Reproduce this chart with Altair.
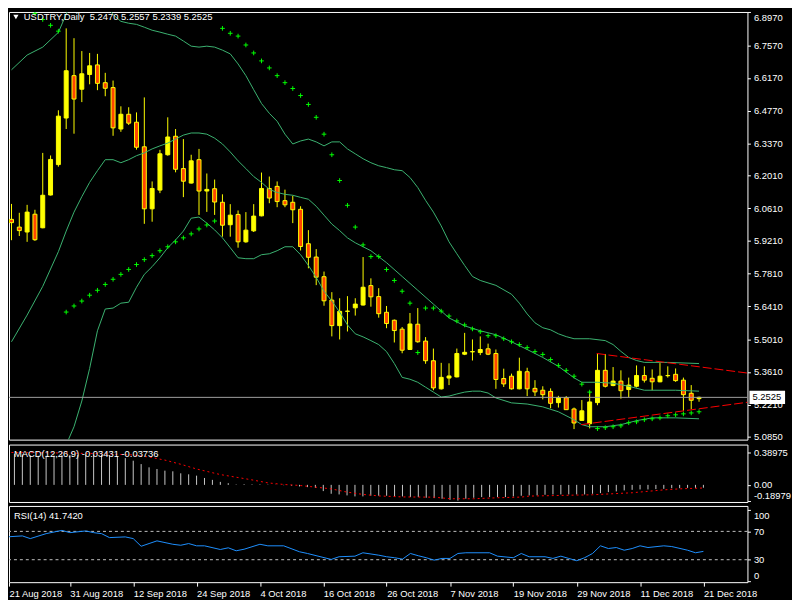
import altair as alt
import pandas as pd

# ---------------- data ----------------
opens = [6.013, 5.980, 5.959, 6.035, 5.977, 6.117, 6.247, 6.446, 6.627, 6.569,
         6.632, 6.673, 6.597, 6.576, 6.399, 6.462, 6.428, 6.323, 6.058, 6.138,
         6.289, 6.368, 6.230, 6.168, 6.268, 6.134, 6.144, 6.086, 5.990, 6.034,
         5.917, 5.964, 6.028, 6.145, 6.154, 6.093, 6.086, 6.056, 5.909, 5.852,
         5.768, 5.668, 5.559, 5.620, 5.635, 5.647, 5.730, 5.683, 5.616, 5.582,
         5.544, 5.457, 5.565, 5.493, 5.409, 5.289, 5.335, 5.340, 5.437, 5.447,
         5.444, 5.460, 5.440, 5.333, 5.343, 5.289, 5.362, 5.291, 5.283, 5.278,
         5.230, 5.251, 5.203, 5.154, 5.140, 5.230, 5.368, 5.303, 5.322, 5.286,
         5.300, 5.346, 5.334, 5.319, 5.345, 5.351, 5.326, 5.270, 5.2470]
highs = [6.079, 6.041, 6.075, 6.054, 6.297, 6.286, 6.479, 6.829, 6.787, 6.732,
         6.724, 6.720, 6.639, 6.606, 6.496, 6.492, 6.470, 6.534, 6.175, 6.310,
         6.449, 6.399, 6.356, 6.289, 6.314, 6.209, 6.183, 6.120, 6.078, 6.051,
         6.044, 6.078, 6.213, 6.196, 6.175, 6.140, 6.114, 6.069, 5.967, 5.886,
         5.790, 5.702, 5.676, 5.685, 5.676, 5.852, 5.761, 5.719, 5.643, 5.585,
         5.553, 5.613, 5.634, 5.510, 5.461, 5.400, 5.398, 5.461, 5.528, 5.500,
         5.513, 5.482, 5.457, 5.375, 5.354, 5.422, 5.379, 5.326, 5.300, 5.291,
         5.259, 5.258, 5.209, 5.241, 5.278, 5.438, 5.438, 5.382, 5.368, 5.337,
         5.389, 5.385, 5.372, 5.399, 5.385, 5.376, 5.337, 5.305, 5.2557]
lows = [5.924, 5.942, 5.917, 5.921, 5.975, 6.115, 6.238, 6.399, 6.379, 6.514,
        6.590, 6.565, 6.539, 6.370, 6.387, 6.416, 6.311, 5.994, 6.003, 6.125,
        6.285, 6.214, 6.108, 6.166, 6.032, 6.045, 6.032, 5.939, 5.939, 5.892,
        5.913, 5.959, 6.026, 6.082, 6.065, 6.065, 5.997, 5.880, 5.804, 5.732,
        5.644, 5.513, 5.500, 5.534, 5.602, 5.645, 5.640, 5.593, 5.548, 5.487,
        5.441, 5.455, 5.486, 5.396, 5.283, 5.286, 5.305, 5.338, 5.433, 5.410,
        5.433, 5.433, 5.289, 5.297, 5.286, 5.287, 5.258, 5.258, 5.244, 5.206,
        5.209, 5.199, 5.117, 5.152, 5.120, 5.219, 5.295, 5.300, 5.247, 5.253,
        5.295, 5.316, 5.283, 5.317, 5.337, 5.319, 5.195, 5.202, 5.2339]
closes = [5.999, 5.965, 6.044, 5.926, 6.116, 6.269, 6.454, 6.648, 6.527, 6.635,
          6.669, 6.594, 6.573, 6.404, 6.462, 6.424, 6.321, 6.058, 6.145, 6.293,
          6.365, 6.227, 6.176, 6.263, 6.134, 6.141, 6.087, 5.988, 6.031, 5.917,
          5.967, 6.027, 6.145, 6.104, 6.089, 6.075, 6.054, 5.897, 5.851, 5.766,
          5.665, 5.559, 5.620, 5.621, 5.651, 5.723, 5.682, 5.610, 5.568, 5.538,
          5.454, 5.566, 5.490, 5.409, 5.293, 5.338, 5.344, 5.440, 5.445, 5.448,
          5.457, 5.437, 5.329, 5.310, 5.289, 5.364, 5.289, 5.276, 5.264, 5.227,
          5.251, 5.200, 5.143, 5.195, 5.233, 5.368, 5.300, 5.322, 5.281, 5.305,
          5.346, 5.326, 5.319, 5.343, 5.346, 5.324, 5.264, 5.240, 5.2525]

date_ticks = [0, 8, 16, 24, 32, 40, 48, 56, 64, 72, 80, 88]
date_labels = ["21 Aug 2018", "31 Aug 2018", "12 Sep 2018", "24 Sep 2018",
               "4 Oct 2018", "16 Oct 2018", "26 Oct 2018", "7 Nov 2018",
               "19 Nov 2018", "29 Nov 2018", "11 Dec 2018", "21 Dec 2018"]
price_ticks = [6.8970, 6.7570, 6.6170, 6.4770, 6.3370, 6.2010, 6.0610,
               5.9210, 5.7810, 5.6410, 5.5010, 5.3610, 5.2210, 5.0850]

bb_up_i = [0, 2, 4, 6, 7, 8, 9, 10, 11, 12, 13, 14, 15, 16, 17, 18, 19, 20, 21, 22,
           23, 24, 25, 26, 27, 28, 29, 30, 31, 32, 33, 34, 35, 36, 37, 38, 39, 40,
           41, 42, 43, 44, 45, 46, 47, 48, 49, 50, 51, 52, 53, 54, 55, 56, 57, 58,
           59, 60, 62, 64, 65, 66, 67, 68, 69, 70, 71, 72, 74, 76, 77, 78, 79, 80,
           81, 84, 88]
bb_up_v = [6.652, 6.715, 6.749, 6.812, 6.889, 6.965, 6.998, 7.007, 6.990, 6.935,
           6.888, 6.859, 6.851, 6.846, 6.834, 6.821, 6.813, 6.804, 6.796, 6.775,
           6.753, 6.749, 6.753, 6.749, 6.736, 6.720, 6.677, 6.627, 6.567, 6.508,
           6.466, 6.432, 6.377, 6.335, 6.348, 6.356, 6.344, 6.327, 6.344, 6.344,
           6.314, 6.293, 6.272, 6.255, 6.242, 6.234, 6.225, 6.221, 6.192, 6.149,
           6.094, 6.044, 5.985, 5.917, 5.866, 5.816, 5.769, 5.752, 5.731, 5.693,
           5.655, 5.609, 5.571, 5.550, 5.541, 5.524, 5.512, 5.503, 5.503, 5.495,
           5.478, 5.449, 5.423, 5.410, 5.402, 5.402, 5.397]
bb_mid_i = [0, 2, 4, 6, 7, 8, 9, 10, 11, 12, 13, 14, 15, 16, 17, 18, 19, 20, 21, 22,
            23, 24, 25, 26, 27, 28, 29, 30, 31, 32, 33, 34, 35, 36, 37, 38, 39, 40,
            41, 42, 43, 44, 46, 48, 50, 52, 54, 56, 58, 60, 62, 64, 66, 68, 70, 72,
            73, 75, 77, 79, 81, 85, 88]
bb_mid_v = [5.490, 5.604, 5.727, 5.875, 5.963, 6.044, 6.110, 6.171, 6.221, 6.268,
            6.268, 6.255, 6.268, 6.285, 6.297, 6.314, 6.327, 6.339, 6.356, 6.373,
            6.382, 6.382, 6.377, 6.360, 6.335, 6.301, 6.263, 6.230, 6.196, 6.171,
            6.141, 6.128, 6.120, 6.116, 6.107, 6.099, 6.069, 6.031, 5.993, 5.965,
            5.934, 5.913, 5.879, 5.828, 5.769, 5.710, 5.651, 5.592, 5.558, 5.537,
            5.520, 5.490, 5.457, 5.423, 5.385, 5.336, 5.317, 5.317, 5.313, 5.300,
            5.283, 5.283, 5.279]
bb_low_i = [7, 8, 9, 10, 11, 12, 13, 14, 15, 16, 17, 18, 19, 20, 21, 22, 23, 24, 25,
            26, 27, 28, 29, 30, 31, 32, 33, 34, 35, 36, 37, 38, 39, 40, 41, 42, 43,
            44, 45, 46, 47, 48, 49, 50, 51, 52, 53, 54, 55, 56, 57, 58, 59, 60, 61,
            62, 64, 66, 68, 70, 72, 73, 74, 76, 78, 80, 82, 85, 88]
bb_low_v = [5.050, 5.127, 5.237, 5.376, 5.537, 5.630, 5.634, 5.655, 5.659, 5.723,
            5.778, 5.811, 5.849, 5.892, 5.925, 5.963, 6.018, 6.023, 5.997, 5.968,
            5.934, 5.892, 5.849, 5.845, 5.845, 5.862, 5.866, 5.879, 5.896, 5.896,
            5.862, 5.816, 5.765, 5.706, 5.664, 5.617, 5.562, 5.524, 5.511, 5.495,
            5.478, 5.448, 5.397, 5.338, 5.330, 5.317, 5.296, 5.275, 5.254, 5.258,
            5.267, 5.275, 5.279, 5.279, 5.271, 5.250, 5.229, 5.224, 5.212, 5.191,
            5.157, 5.136, 5.127, 5.127, 5.136, 5.153, 5.165, 5.165, 5.161]
sar_i = [2, 3, 4, 5, 6,
         7, 8, 9, 10, 11, 12, 13, 14, 15, 16, 17, 18, 19, 20, 21, 22, 23, 24, 25, 26,
         27, 28, 29, 30, 31, 32, 33, 34, 35, 36, 37, 38, 39, 40, 41, 42, 43, 44, 45,
         46, 47, 48, 49, 50, 51, 52,
         53, 54, 55, 56, 57, 58, 59, 60, 61, 62, 63, 64, 65, 66, 67, 68, 69, 70, 71,
         72, 73, 74,
         75, 76, 77, 78, 79, 80, 81, 82, 83, 84, 85, 86, 87, 88]
sar_v = [6.918, 6.893, 6.867, 6.842, 6.817,
         5.617, 5.643, 5.664, 5.689, 5.710, 5.735, 5.757, 5.778, 5.799, 5.820, 5.841,
         5.858, 5.879, 5.896, 5.917, 5.934, 5.951, 5.972, 5.989, 6.006,
         6.829, 6.808, 6.796, 6.758, 6.724, 6.690, 6.660, 6.627, 6.597, 6.572, 6.542,
         6.504, 6.449, 6.377, 6.289, 6.179, 6.073, 5.980, 5.904, 5.854, 5.854, 5.799,
         5.752, 5.706, 5.655, 5.444,
         5.634, 5.634, 5.621, 5.600, 5.579, 5.562, 5.545, 5.533, 5.516, 5.516, 5.503,
         5.490, 5.478, 5.465, 5.448, 5.436, 5.414, 5.389, 5.368, 5.343, 5.309, 5.275,
         5.119, 5.123, 5.127, 5.131, 5.144, 5.148, 5.157, 5.161, 5.165, 5.174, 5.178,
         5.182, 5.186, 5.191]
trend_up_i = [74.9, 94.5]
trend_up_v = [5.440, 5.355]
trend_low_i = [72.9, 94.5]
trend_low_v = [5.136, 5.233]

macd_hist = [0.3897, 0.375, 0.365, 0.355, 0.350, 0.350, 0.352, 0.358, 0.360, 0.360,
             0.362, 0.362, 0.360, 0.352, 0.345, 0.322, 0.291, 0.250, 0.211, 0.191,
             0.171, 0.163, 0.139, 0.127, 0.111, 0.083, 0.060, 0.036, 0.020, 0.005,
             0.008, 0.006, 0.006, 0.004, 0.002, -0.004, -0.010, -0.019, -0.027, -0.036,
             -0.075, -0.107, -0.115, -0.127, -0.139, -0.139, -0.131, -0.131, -0.131, -0.139,
             -0.139, -0.147, -0.147, -0.155, -0.159, -0.167, -0.180, -0.1898, -0.167, -0.155,
             -0.147, -0.147, -0.147, -0.147, -0.139, -0.131, -0.127, -0.127, -0.119, -0.115,
             -0.115, -0.115, -0.115, -0.115, -0.107, -0.099, -0.087, -0.079, -0.067, -0.060,
             -0.055, -0.055, -0.051, -0.048, -0.040, -0.040, -0.036, -0.036, -0.03431]
sig_i = [0, 6, 12, 16, 18, 20, 22, 24, 27, 29, 31, 33, 35, 37, 39, 41, 43, 45, 47,
         50, 54, 56, 59, 62, 65, 66, 70, 74, 79, 83, 85, 88]
sig_v = [0.390, 0.385, 0.375, 0.360, 0.335, 0.298, 0.248, 0.191, 0.124, 0.092,
         0.060, 0.024, 0.005, -0.007, -0.027, -0.048, -0.087, -0.115, -0.133,
         -0.145, -0.148, -0.167, -0.167, -0.155, -0.147, -0.135, -0.127, -0.119,
         -0.095, -0.060, -0.048, -0.03736]
macd_ticks = [0.38975, 0.0, -0.18979]

rsi_i = [0, 2, 3, 5, 7, 8, 10, 11, 12, 13, 15, 16, 17, 18, 19, 21, 22, 23, 24, 25,
         27, 28, 29, 30, 32, 33, 35, 37, 38, 41, 42, 44, 45, 47, 48, 49, 50, 51, 52,
         53, 54, 55, 56, 57, 58, 61, 62, 64, 65, 66, 68, 69, 70, 71, 72, 73, 74, 75,
         76, 77, 78, 79, 80, 81, 83, 84, 86, 87, 88]
rsi_v = [62.2, 63.6, 59.8, 66.8, 71.4, 68.2, 70.6, 68.2, 66.8, 61.2, 62.2, 59.8,
         49.0, 52.8, 56.6, 51.8, 50.4, 52.8, 49.6, 49.6, 44.4, 46.8, 42.6, 44.8,
         51.8, 49.6, 49.6, 41.2, 38.8, 30.4, 34.2, 35.0, 39.8, 36.4, 34.2, 32.8,
         30.8, 38.8, 35.6, 32.8, 29.4, 31.8, 31.8, 38.8, 39.8, 39.8, 35.0, 32.8,
         38.8, 34.2, 34.2, 31.8, 35.0, 31.8, 28.6, 32.8, 38.8, 49.6, 45.8, 47.2,
         43.4, 45.8, 49.6, 47.2, 49.6, 48.6, 43.4, 39.8, 41.742]
rsi_levels = [30, 70]
rsi_ticks = [100, 70, 30, 0]

# ---------------- styling ----------------
W = 746
H_MAIN, H_MACD, H_RSI = 432, 58, 77
FONT = "Liberation Sans"
FS = 9.5
X_DOMAIN = [0.3125, 0.3125 + W / 8.0]
xs = alt.Scale(domain=X_DOMAIN, nice=False, zero=False)
ys_main = alt.Scale(domain=[5.072, 6.899], nice=False, zero=False)
ys_macd = alt.Scale(domain=[-0.206, 0.485], nice=False, zero=False)
ys_rsi = alt.Scale(domain=[-1.7, 105.9], nice=False, zero=False)
X = alt.X("i:Q", scale=xs, axis=None)

BULL = "#FFFF00"
BEAR = "#FF4500"
BAND = "#3CB371"


def right_axis(values, flush, label_expr=None, fmt=None):
    kw = dict(orient="right", values=values, domain=False, grid=False,
              tickColor="white", tickSize=3, tickWidth=1, labelColor="white",
              labelFont=FONT, labelFontSize=FS, labelPadding=3,
              labelOverlap=False, labelFlush=flush, title=None)
    if label_expr:
        kw["labelExpr"] = label_expr
    if fmt:
        kw["format"] = fmt
    return alt.Axis(**kw)


main_axis = right_axis(price_ticks, 2, fmt=".4f")
macd_expr = ("datum.value == 0 ? '0.00' : (datum.value < 0 ? '-' + "
             "format(-datum.value, '.5f') : format(datum.value, '.5f'))")
macd_axis = right_axis(macd_ticks, 5, label_expr=macd_expr)
rsi_axis = right_axis(rsi_ticks, 5, fmt="d")


def series_line(i, v, scale, axis, color, dash=None, width=1):
    df = pd.DataFrame({"i": i, "v": v})
    kw = dict(color=color, strokeWidth=width, clip=True)
    if dash:
        kw["strokeDash"] = dash
    return alt.Chart(df).mark_line(**kw).encode(
        x=X, y=alt.Y("v:Q", scale=scale, axis=axis))


# ---------------- main price panel ----------------
cdf = pd.DataFrame({"i": list(range(len(opens))), "o": opens, "h": highs,
                    "l": lows, "c": closes})

wicks = alt.Chart(cdf).mark_rule(color=BULL, strokeWidth=1, clip=True).encode(
    x=X, y=alt.Y("l:Q", scale=ys_main, axis=main_axis), y2="h:Q")
bodies = alt.Chart(cdf).mark_bar(size=4, stroke=BULL, strokeWidth=1, clip=True).encode(
    x=X,
    y=alt.Y("o:Q", scale=ys_main, axis=main_axis),
    y2="c:Q",
    fill=alt.condition("datum.c >= datum.o", alt.value(BULL), alt.value(BEAR)))

bb_up = series_line(bb_up_i, bb_up_v, ys_main, main_axis, BAND)
bb_mid = series_line(bb_mid_i, bb_mid_v, ys_main, main_axis, BAND)
bb_low = series_line(bb_low_i, bb_low_v, ys_main, main_axis, BAND)

sar = alt.Chart(pd.DataFrame({"i": sar_i, "v": sar_v})).mark_point(
    shape="M-1,0L1,0M0,-1L0,1", filled=False, color="#00FF00", strokeWidth=1,
    size=22, opacity=1, clip=True).encode(
    x=X, y=alt.Y("v:Q", scale=ys_main, axis=main_axis))

tr_up = series_line(trend_up_i, trend_up_v, ys_main, main_axis, "#FF0000", dash=[9, 3])
tr_low = series_line(trend_low_i, trend_low_v, ys_main, main_axis, "#FF0000", dash=[9, 3])

last = pd.DataFrame({"p": [closes[-1]], "lab": [f"{closes[-1]:.4f}"]})
price_line = alt.Chart(last).mark_rule(color="#A0A0A0", strokeWidth=1).encode(
    y=alt.Y("p:Q", scale=ys_main, axis=main_axis))
price_box = alt.Chart(last).transform_calculate(
    lo="datum.p - 0.028", hi="datum.p + 0.028").mark_rect(color="white").encode(
    x=alt.value(W + 2), x2=alt.value(W + 38),
    y=alt.Y("lo:Q", scale=ys_main, axis=main_axis), y2="hi:Q")
price_txt = alt.Chart(last).mark_text(align="left", baseline="middle", color="black",
                                      font=FONT, fontSize=FS).encode(
    x=alt.value(W + 5), y=alt.Y("p:Q", scale=ys_main, axis=main_axis), text="lab:N")

title_str = ("USDTRY,Daily\u00a0\u00a0" +
             f"{opens[-1]:.4f} {highs[-1]:.4f} {lows[-1]:.4f} {closes[-1]:.4f}")
title_df = pd.DataFrame({"t": [title_str]})
tri = alt.Chart(title_df).mark_point(shape="triangle-down", filled=True,
                                     color="white", size=28, opacity=1).encode(
    x=alt.value(7), y=alt.value(5))
title_txt = alt.Chart(title_df).mark_text(align="left", baseline="middle",
                                          color="white", font=FONT, fontSize=FS).encode(
    x=alt.value(15), y=alt.value(5), text="t:N")

main = alt.layer(wicks, bodies, bb_up, bb_mid, bb_low, sar, tr_up, tr_low,
                 price_line, price_box, price_txt, tri, title_txt).properties(
    width=W, height=H_MAIN)

# ---------------- MACD panel ----------------
mdf = pd.DataFrame({"i": list(range(len(macd_hist))), "m": macd_hist})
hist = alt.Chart(mdf).mark_rule(color="#C8C8C8", strokeWidth=1, clip=True).encode(
    x=X, y=alt.Y("m:Q", scale=ys_macd, axis=macd_axis), y2=alt.datum(0))
signal = series_line(sig_i, sig_v, ys_macd, macd_axis, "#FF0000", dash=[2, 3])
macd_lbl = alt.Chart(pd.DataFrame({
    "t": [f"MACD(12,26,9) {macd_hist[-1]:.5f} {sig_v[-1]:.5f}"]})).mark_text(
    align="left", baseline="middle", color="white", font=FONT, fontSize=FS).encode(
    x=alt.value(5), y=alt.value(10), text="t:N")
macd = alt.layer(hist, signal, macd_lbl).properties(width=W, height=H_MACD)

# ---------------- RSI panel ----------------
label_array = "[" + ",".join(f"'{d}'" for d in date_labels) + "]"
x_axis = alt.Axis(orient="bottom", values=[max(v, X_DOMAIN[0]) for v in date_ticks],
                  labelExpr=label_array + "[round(datum.value / 8)]",
                  domain=False, grid=False, tickColor="white", tickSize=4,
                  labelColor="white", labelFont=FONT, labelFontSize=FS,
                  labelAlign="left", labelBaseline="top", labelPadding=2,
                  labelFlush=False, labelOverlap=False, title=None)
levels = alt.Chart(pd.DataFrame({"lv": rsi_levels})).mark_rule(
    color="#C0C0C0", strokeDash=[3, 3], strokeWidth=1).encode(
    y=alt.Y("lv:Q", scale=ys_rsi, axis=rsi_axis))
rsi_line = alt.Chart(pd.DataFrame({"i": rsi_i, "v": rsi_v})).mark_line(
    color="#1E90FF", strokeWidth=1, clip=True).encode(
    x=alt.X("i:Q", scale=xs, axis=x_axis),
    y=alt.Y("v:Q", scale=ys_rsi, axis=rsi_axis))
rsi_lbl = alt.Chart(pd.DataFrame({"t": [f"RSI(14) {rsi_v[-1]:.4f}"]})).mark_text(
    align="left", baseline="middle", color="white", font=FONT, fontSize=FS).encode(
    x=alt.value(5), y=alt.value(10), text="t:N")
rsi = alt.layer(levels, rsi_line, rsi_lbl).properties(width=W, height=H_RSI)

chart = alt.vconcat(main, macd, rsi, spacing=2).properties(
    background="black", padding=0).configure_view(
    stroke="white", strokeWidth=1, fill="black")

chart.save("out.html", embed_options={"renderer": "svg", "actions": False})
